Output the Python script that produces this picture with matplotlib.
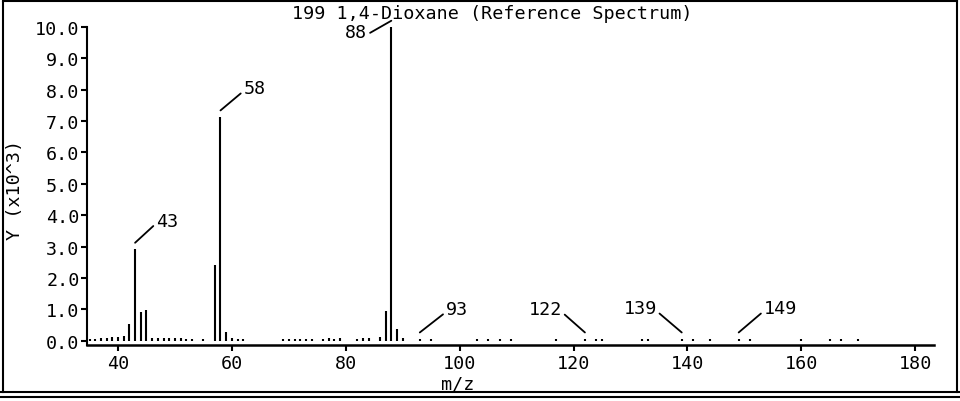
import matplotlib
matplotlib.use("Agg")
import matplotlib.pyplot as plt
from matplotlib.lines import Line2D

# mass spectrum values (m/z, intensity in units of 10^3)
mz = [35, 36, 37, 38, 39, 40, 41, 42, 43, 44, 45, 46, 47, 48, 49, 50, 51, 52, 53, 55,
      57, 58, 59, 60, 61, 62, 69, 70, 71, 72, 73, 74, 76, 77, 78, 79, 82, 83, 84, 86,
      87, 88, 89, 90, 93, 95, 103, 105, 107, 109, 117, 122, 124, 125, 132, 133, 139, 141,
      144, 149, 151, 160, 165, 167, 170]
intensity = [0.06, 0.06, 0.07, 0.08, 0.1, 0.12, 0.15, 0.53, 2.92, 0.92, 0.98, 0.08, 0.07, 0.07,
             0.07, 0.07, 0.07, 0.06, 0.06, 0.06,
             2.4, 7.14, 0.27, 0.08, 0.06, 0.06, 0.06, 0.06, 0.06, 0.06, 0.06, 0.06, 0.06, 0.07,
             0.06, 0.08, 0.06, 0.07, 0.08, 0.12,
             0.93, 10.0, 0.38, 0.08, 0.06, 0.06, 0.06, 0.06, 0.06, 0.06, 0.06, 0.06, 0.06, 0.06,
             0.06, 0.06, 0.06, 0.06,
             0.06, 0.06, 0.06, 0.06, 0.06, 0.06, 0.06]

labelled = [43, 58, 88, 93, 122, 139, 149]
yticks = [0, 1, 2, 3, 4, 5, 6, 7, 8, 9, 10]
xticks = [40, 60, 80, 100, 120, 140, 160, 180]
title = "199 1,4-Dioxane (Reference Spectrum)"

W, H = 960, 402
FONT = "DejaVu Sans Mono"
FS = 13.2

fig = plt.figure(figsize=(W / 100, H / 100), dpi=100)


def fx(px):
    return px / W


def fy(py):
    return 1 - py / H


ax = fig.add_axes([fx(86.5), fy(345.7), fx(934 - 86.5), (345.7 - 28) / H])
ax.vlines(mz, 0, intensity, color="black", linewidth=1.5)
ax.set_xlim(34.47, 183.3)
ax.set_ylim(-0.13, 10.0)

ax.spines["top"].set_visible(False)
ax.spines["right"].set_visible(False)
ax.spines["left"].set_linewidth(1.5)
ax.spines["bottom"].set_linewidth(1.8)

ax.set_yticks(yticks)
ax.set_yticklabels([f"{v:.1f}" for v in yticks], family=FONT, fontsize=FS)
ax.set_xticks(xticks)
ax.set_xticklabels([str(v) for v in xticks], family=FONT, fontsize=FS)
ax.tick_params(axis="y", length=4, width=1.5, pad=1)
ax.tick_params(axis="x", length=4, width=1.5, pad=3)

# peak labels with leader lines (offsets in pixels)
offsets = {43: (21, 22, "left"), 58: (23, 22, "left"), 88: (-24, -11, "right"),
           93: (26, 23, "left"), 122: (-23, 23, "right"), 139: (-25, 24, "right"),
           149: (25, 24, "left")}
for m in labelled:
    h = intensity[mz.index(m)]
    dx, dy, ha = offsets[m]
    ax.annotate(str(m), xy=(m, h + 0.2), xytext=(dx, dy), textcoords="offset pixels",
                ha=ha, va="center", family=FONT, fontsize=FS, annotation_clip=False,
                arrowprops=dict(arrowstyle="-", color="black", lw=1.3, shrinkA=0, shrinkB=0,
                                relpos=(0 if ha == "left" else 1, 0.35)))

fig.text(fx(492), fy(14), title, ha="center", va="center", family=FONT, fontsize=FS)
fig.text(fx(15), fy(190), "Y (x10^3)", rotation=90, ha="center", va="center",
         family=FONT, fontsize=FS)
fig.text(fx(458), fy(385), "m/z", ha="center", va="center", family=FONT, fontsize=FS)

# scanned page frame
frame = [((3, 3), (3, 393)), ((3, 957), (2, 2)), ((957, 957), (2, 393)),
         ((0, 960), (393, 393)), ((0, 960), (397.5, 397.5))]
for xs, ys in frame:
    fig.add_artist(Line2D([fx(x) for x in xs], [fy(y) for y in ys],
                          color="black", linewidth=1.5))

fig.savefig("out.png", dpi=100)
